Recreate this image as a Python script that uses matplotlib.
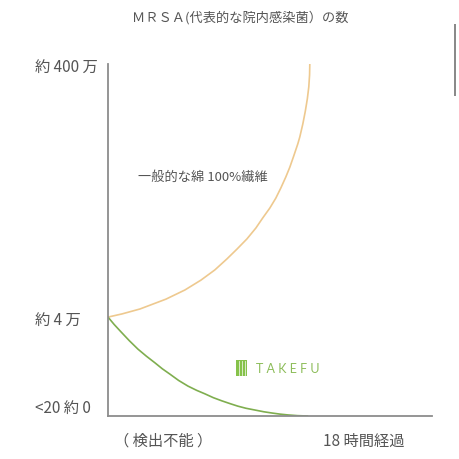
import matplotlib
matplotlib.use("Agg")
import matplotlib.pyplot as plt
import matplotlib.patches as patches

plt.rcParams['font.family'] = ['Noto Sans CJK JP', 'DejaVu Sans']

# hours since start / relative count level (0 = <20, 28 = ~4万, 100 = ~400万)
cotton_hours = [0, 1.25, 2.85, 5.17, 6.86, 8.29, 9.53, 10.60, 11.50, 12.39, 13.19, 13.81,
                14.44, 14.97, 15.42, 15.86, 16.22, 16.57, 16.93, 17.11, 17.38, 17.60,
                17.78, 17.91, 17.98, 18.0]
cotton_level = [28.1, 29.0, 30.4, 33.2, 35.8, 38.6, 41.5, 44.6, 47.4, 50.3, 53.4, 56.3,
                59.1, 61.9, 64.8, 67.9, 70.7, 73.9, 77.3, 79.3, 83.0, 86.6,
                90.1, 93.5, 96.9, 100]

takefu_hours = [0, 0.55, 1.16, 1.9, 2.67, 3.42, 4.19, 4.85, 5.52, 6.3, 7.13, 7.9, 8.64,
                9.4, 10.16, 10.9, 11.58, 12.3, 13.10, 13.9, 14.62, 15.3, 16.05, 16.9, 17.8]
takefu_level = [28.1, 26.0, 23.9, 21.4, 19.0, 17.0, 15.1, 13.4, 11.9, 10.1, 8.5, 7.3, 6.3,
                5.2, 4.3, 3.5, 2.8, 2.2, 1.7, 1.2, 0.85, 0.55, 0.3, 0.1, 0]

ytick_pos = [0, 28, 100]
ytick_labels = ['<20 約 0', '約 4 万', '約 400 万']

title = 'ＭＲＳＡ(代表的な院内感染菌）の数'
cotton_label = '一般的な綿 100%繊維'

txt = '#555555'
axis_col = '#8c8c8c'

fig = plt.figure(figsize=(4.6, 4.6), dpi=100)
ax = fig.add_axes([108/460, 43/460, 324/460, 352/460])

ax.plot(cotton_hours, cotton_level, color='#eec98f', lw=1.2, solid_capstyle='round')
ax.plot(takefu_hours, takefu_level, color='#7fae4f', lw=1.2, solid_capstyle='round')

ax.set_xlim(0, 28.9)
ax.set_ylim(0, 100)

for s in ['top', 'right']:
    ax.spines[s].set_visible(False)
for s in ['left', 'bottom']:
    ax.spines[s].set_color(axis_col)
    ax.spines[s].set_linewidth(1.3)

ax.set_xticks([])
ax.set_yticks(ytick_pos)
ax.set_yticklabels(ytick_labels, fontsize=11, color=txt)
ax.tick_params(axis='y', length=0, pad=52.5)
for lab in ax.get_yticklabels():
    lab.set_ha('left')
ax.get_yticklabels()[0].set_va('bottom')

# x-axis notes
ax.text(0.17, -0.068, '（ 検出不能 ）', transform=ax.transAxes, ha='center', va='center',
        fontsize=11, color=txt)
ax.text(0.79, -0.068, '18 時間経過', transform=ax.transAxes, ha='center', va='center',
        fontsize=11, color=txt)

# curve label
ax.text((138 - 108) / 324, (417 - 177) / 352, cotton_label, transform=ax.transAxes,
        ha='left', va='center', fontsize=9.5, color=txt)

# TAKEFU logo
lx0, ly0 = (236 - 108) / 324, (417 - 377) / 352
lw_, lh_ = 11.5 / 324, 16.5 / 352
ax.add_patch(patches.Rectangle((lx0, ly0), lw_, lh_, transform=ax.transAxes,
                               facecolor='#86c24a', edgecolor='none'))
for k in range(1, 4):
    xs = lx0 + lw_ * k / 4
    ax.plot([xs, xs], [ly0 + lh_ * 0.08, ly0 + lh_ * 0.92], transform=ax.transAxes,
            color='white', lw=0.6, alpha=0.8)
ax.text((256 - 108) / 324, (417 - 369) / 352, 'T A K E F U', transform=ax.transAxes,
        ha='left', va='center', fontsize=9, color='#8dbd5a', family=['Lato', 'DejaVu Sans'])

fig.text(240 / 460, 1 - 18 / 460, title, ha='center', va='center', fontsize=9.5, color=txt)

# scrollbar strip at right edge
fig.patches.append(patches.Rectangle((454 / 460, 1 - 97 / 460), 2 / 460, 72 / 460,
                                     transform=fig.transFigure, facecolor='#8a8a8a',
                                     edgecolor='none'))

fig.savefig('out.png', dpi=100)
